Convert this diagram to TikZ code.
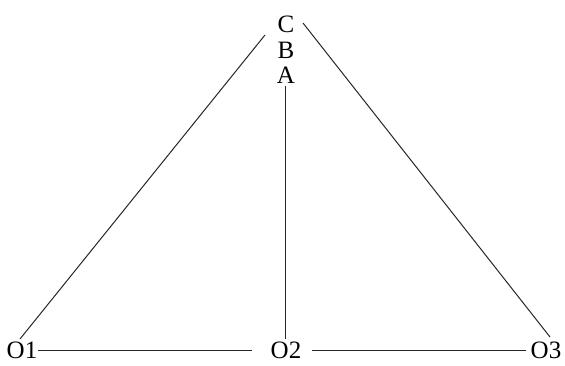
\documentclass[tikz,border=0pt]{standalone}
\usepackage{fontspec}
\setmainfont{Liberation Serif}
\begin{document}
\begin{tikzpicture}[x=1pt,y=1pt,
  lbl/.style={inner sep=0pt,font=\fontsize{25}{25}\selectfont},
  ln/.style={line width=1pt,black!85}]
\useasboundingbox (0,0) rectangle (565,365);
\node[lbl] (C) at (286,341) {C};
\node[lbl] (B) at (286,315) {B};
\node[lbl] (A) at (286,290) {A};
\node[lbl] (O1) at (22,15) {O1};
\node[lbl] (O2) at (286,15) {O2};
\node[lbl] (O3) at (546,15) {O3};
\draw[ln] ([shift={(-21,-11)}]C.center) -- ([shift={(-2,11)}]O1.center);
\draw[ln] ([shift={(17,1)}]C.center) -- ([shift={(4,13)}]O3.center);
\draw[ln] ([shift={(-1,-11)}]A.center) -- ([shift={(-1,11)}]O2.center);
\draw[ln] ([shift={(16,0)}]O1.center) -- ([shift={(-34,0)}]O2.center);
\draw[ln] ([shift={(26,0)}]O2.center) -- ([shift={(-20,0)}]O3.center);
\end{tikzpicture}
\end{document}
